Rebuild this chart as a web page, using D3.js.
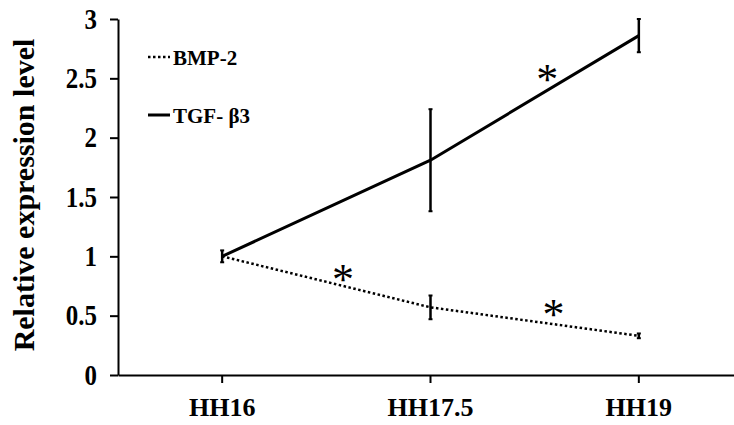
<!DOCTYPE html>
<html>
<head>
<meta charset="utf-8">
<script src="https://cdn.jsdelivr.net/npm/d3@7"></script>
<style>
  body { margin: 0; background: #fff; }
  svg text { font-family: "Liberation Serif", "Times New Roman", serif; font-weight: bold; }
</style>
</head>
<body>
<svg id="chart" width="734" height="425"></svg>
<script>
// stages on the x axis
const stages = ['HH16', 'HH17.5', 'HH19'];
const yTicks = [0, 0.5, 1, 1.5, 2, 2.5, 3];

// relative expression and error (+/-)
const bmp2 = [1.0, 0.57, 0.33];
const bmp2Err = [0.05, 0.1, 0.02];
const tgfb3 = [1.0, 1.81, 2.86];
const tgfb3Err = [0.0, 0.43, 0.14];

// significance marks: position in stage units and value
const starStage = [1.56, 0.58, 1.59];
const starValue = [2.545, 0.86, 0.565];

const series = [
    { name: 'BMP-2', values: bmp2, err: bmp2Err, dash: '2.5,2.5', width: 2.5 },
    { name: 'TGF- β3', values: tgfb3, err: tgfb3Err, dash: null, width: 3 }
];

const svg = d3.select('#chart');
const mLeft = 118, mTop = 19, mBottom = 375, mRight = 743;

const x = d3.scaleBand().domain(stages).range([mLeft, mRight]);
const y = d3.scaleLinear().domain([0, 3]).range([mBottom, mTop]);
const xAt = s => x(stages[0]) + x.bandwidth() / 2 + s * x.step();

// axes
const yAxis = svg.append('g')
    .attr('transform', `translate(${mLeft},0)`)
    .call(d3.axisLeft(y).tickValues(yTicks).tickFormat(d3.format('')).tickSize(8).tickSizeOuter(0).tickPadding(13));
// digits in the picture are narrow and tall
const sx = 0.86;
yAxis.selectAll('text')
    .style('font-size', '29px')
    .attr('fill', '#000')
    .attr('x', -21 / sx)
    .attr('transform', `scale(${sx},1)`);

const xAxis = svg.append('g')
    .attr('transform', `translate(0,${mBottom})`)
    .call(d3.axisBottom(x).tickSize(8).tickSizeOuter(0).tickPadding(15));
xAxis.selectAll('text').style('font-size', '26px').attr('fill', '#000');

svg.selectAll('.domain, .tick line').attr('stroke', '#000').attr('stroke-width', 2);

svg.append('text')
    .attr('transform', 'translate(34,195) rotate(-90)')
    .attr('text-anchor', 'middle')
    .style('font-size', '30px')
    .text('Relative expression level');

// lines
const line = d3.line()
    .x((d, i) => x(stages[i]) + x.bandwidth() / 2)
    .y(d => y(d));

series.forEach(s => {
    svg.append('path')
        .datum(s.values)
        .attr('d', line)
        .attr('fill', 'none')
        .attr('stroke', '#000')
        .attr('stroke-width', s.width)
        .attr('stroke-dasharray', s.dash);

    const g = svg.append('g');
    s.values.forEach((v, i) => {
        if (!s.err[i]) return;
        const cx = x(stages[i]) + x.bandwidth() / 2;
        g.append('line')
            .attr('x1', cx).attr('x2', cx)
            .attr('y1', y(v + s.err[i])).attr('y2', y(v - s.err[i]))
            .attr('stroke', '#000').attr('stroke-width', 2.5);
        [v + s.err[i], v - s.err[i]].forEach(e => {
            g.append('line')
                .attr('x1', cx - 2).attr('x2', cx + 2)
                .attr('y1', y(e)).attr('y2', y(e))
                .attr('stroke', '#000').attr('stroke-width', 2);
        });
    });
});

// significance stars
svg.selectAll('.star')
    .data(starStage)
    .enter()
    .append('text')
    .attr('class', 'star')
    .attr('x', d => xAt(d))
    .attr('y', (d, i) => y(starValue[i]) + 21)
    .attr('text-anchor', 'middle')
    .style('font-size', '44px')
    .style('font-weight', 'normal')
    .text('*');

// legend
const legend = svg.append('g');
series.forEach((s, i) => {
    const ly = 57 + i * 58;
    legend.append('line')
        .attr('x1', 148).attr('x2', 170)
        .attr('y1', ly).attr('y2', ly)
        .attr('stroke', '#000')
        .attr('stroke-width', s.width)
        .attr('stroke-dasharray', s.dash);
    legend.append('text')
        .attr('x', 173)
        .attr('y', ly + 8)
        .style('font-size', '21px')
        .text(s.name);
});
</script>
</body>
</html>
